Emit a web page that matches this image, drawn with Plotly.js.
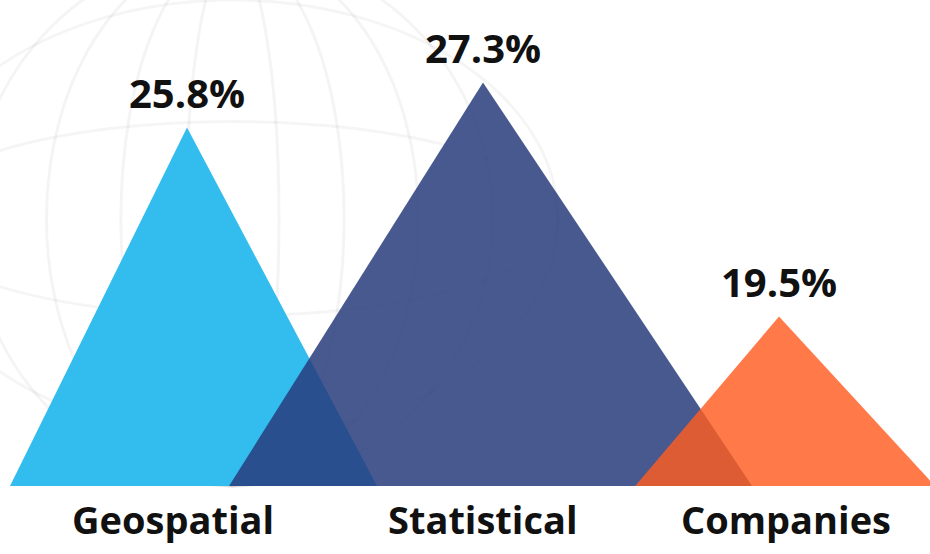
<!DOCTYPE html>
<html>
<head>
<meta charset="utf-8">
<script src="https://cdn.plot.ly/plotly-3.0.1.min.js"></script>
<style>html,body{margin:0;padding:0;background:#fff;}#chart{width:930px;height:554px;}</style>
</head>
<body>
<div id="chart"></div>
<script>
// ---- data ----
var categories = ["Geospatial", "Statistical", "Companies"];
var values = [25.8, 27.3, 19.5];
var valueLabels = ["25.8%", "27.3%", "19.5%"];

// ---- styles ----
var fillColors = ["rgb(51,189,238)", "rgba(40,60,125,0.85)", "rgba(255,93,32,0.82)"];
var spreadLeft = [0.598, 0.858, 0.486];
var spreadRight = [0.642, 0.909, 0.527];
var labelShift = [-14, 0, 7];
var yFloor = 13.85, yTop = 30.05;

var traces = categories.map(function (c, i) {
  return {
    type: "scatter",
    mode: "none",
    fill: "toself",
    fillcolor: fillColors[i],
    x: [i - spreadLeft[i], i, i + spreadRight[i], i - spreadLeft[i]],
    y: [yFloor, values[i], yFloor, yFloor],
    hoverinfo: "skip",
    showlegend: false
  };
});

var annotations = categories.map(function (c, i) {
  return {
    x: i, y: values[i], xref: "x", yref: "y",
    text: valueLabels[i], showarrow: false,
    yanchor: "bottom", yshift: 6,
    font: {family: "Open Sans", size: 40, color: "#111", weight: "bold"}
  };
});
categories.forEach(function (c, i) {
  annotations.push({
    x: i, y: 0, xref: "x", yref: "paper",
    text: c, showarrow: false, yanchor: "top", yshift: -6, xshift: labelShift[i],
    borderpad: 0,
    font: {family: "Open Sans", size: 38, color: "#111", weight: "bold"}
  });
});

// faint globe decoration
var shapes = [];
var gx = 0.25, gy = 0.55;
[0.05, 0.12, 0.2, 0.28].forEach(function (w) {
  shapes.push({type: "circle", xref: "paper", yref: "paper", layer: "below",
    x0: gx - w, x1: gx + w, y0: gy - 0.55, y1: gy + 0.55,
    line: {color: "rgba(0,0,0,0.045)", width: 3}});
});
[0.2, 0.45].forEach(function (h) {
  shapes.push({type: "circle", xref: "paper", yref: "paper", layer: "below",
    x0: gx - 0.35, x1: gx + 0.35, y0: gy - h, y1: gy + h,
    line: {color: "rgba(0,0,0,0.04)", width: 3}});
});

var layout = {
  width: 930, height: 554,
  margin: {l: 0, r: 0, t: 0, b: 68},
  paper_bgcolor: "#fff", plot_bgcolor: "rgba(0,0,0,0)",
  xaxis: {range: [-0.6318, 2.5101], showgrid: false, zeroline: false, showline: false,
    showticklabels: false, ticks: "", fixedrange: true},
  yaxis: {range: [yFloor, yTop], visible: false, fixedrange: true},
  annotations: annotations,
  shapes: shapes
};

Plotly.newPlot("chart", traces, layout, {displayModeBar: false, staticPlot: true});
</script>
</body>
</html>
